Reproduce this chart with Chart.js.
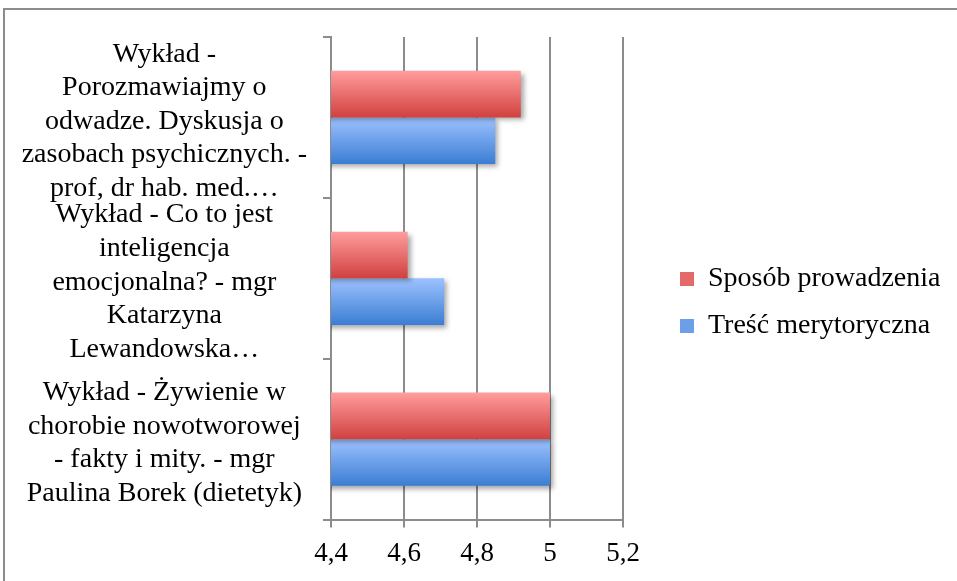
<!DOCTYPE html>
<html>
<head>
<meta charset="utf-8">
<script src="https://cdn.jsdelivr.net/npm/chart.js@4"></script>
<style>
  html, body { margin: 0; padding: 0; background: #fff; overflow: hidden; }
  #frame { position: absolute; left: 3px; top: 8px; width: 1000px; height: 1000px; border: 2px solid #8c8c8c; }
  #chart { position: absolute; left: 0; top: 0; }
</style>
</head>
<body>
<div id="frame"></div>
<canvas id="chart" width="957" height="581"></canvas>
<script>
// categories (multi-line labels as shown on the axis)
const categories = [
  ["Wykład -", "Porozmawiajmy o", "odwadze. Dyskusja o", "zasobach psychicznych. -", "prof, dr hab. med.…"],
  ["Wykład - Co to jest", "inteligencja", "emocjonalna? - mgr", "Katarzyna", "Lewandowska…"],
  ["Wykład - Żywienie w", "chorobie nowotworowej", "- fakty i mity. - mgr", "Paulina Borek (dietetyk)"]
];
const sposobProwadzenia = [4.92, 4.61, 5.0];
const trescMerytoryczna = [4.85, 4.71, 5.0];
const xMin = 4.4, xMax = 5.2, xStep = 0.2;

const serif = "'Liberation Serif', serif";
const gridGrey = "#8c8c8c";

// vertical gradient + soft shadow for the bars
const gradientStops = {
  red: ["#ff9d9d", "#d0413f"],
  blue: ["#9dc2ff", "#3b7dd3"]
};

const barStyle = {
  id: "barStyle",
  afterLayout(chart) {
    // leave a gap between the plot and the legend, as in the original
    const lg = chart.legend;
    lg.left += 38; lg.right += 38;
    lg.top -= 6; lg.bottom -= 6;
  },
  beforeDatasetDraw(chart, args) {
    const ctx = chart.ctx;
    const stops = gradientStops[chart.data.datasets[args.index].tone];
    args.meta.data.forEach((el) => {
      const top = el.y - el.height / 2;
      const g = ctx.createLinearGradient(0, top, 0, top + el.height);
      g.addColorStop(0, stops[0]);
      g.addColorStop(1, stops[1]);
      el.options = Object.assign({}, el.options, { backgroundColor: g });
    });
    ctx.save();
    ctx.shadowColor = "rgba(0,0,0,0.35)";
    ctx.shadowBlur = 5;
    ctx.shadowOffsetX = 3;
    ctx.shadowOffsetY = 3;
  },
  afterDatasetDraw(chart) {
    chart.ctx.restore();
  }
};

document.addEventListener("DOMContentLoaded", () => {
  const ctx = document.getElementById("chart").getContext("2d");

  new Chart(ctx, {
    type: "bar",
    data: {
      labels: categories,
      datasets: [
        {
          label: "Sposób prowadzenia",
          data: sposobProwadzenia,
          tone: "red",
          backgroundColor: "#e46a6a",
          borderWidth: 0,
        },
        {
          label: "Treść merytoryczna",
          data: trescMerytoryczna,
          tone: "blue",
          backgroundColor: "#6d9fe8",
          borderWidth: 0,
        },
      ],
    },
    options: {
      indexAxis: "y",
      responsive: false,
      animation: false,
      layout: { padding: { left: 0, top: 37, right: 0, bottom: 1 } },
      datasets: { bar: { categoryPercentage: 0.58, barPercentage: 1.0 } },
      scales: {
        x: {
          min: xMin,
          max: xMax,
          afterFit: (s) => { s.paddingRight = 334; },
          ticks: {
            stepSize: xStep,
            color: "#000",
            padding: 10,
            font: { family: serif, size: 27 },
            callback: (v) => String(Number(v.toFixed(1))).replace(".", ","),
          },
          grid: { color: gridGrey, lineWidth: 2, tickLength: 8 },
          border: { color: gridGrey, width: 2 },
        },
        y: {
          offset: true,
          afterFit: (s) => { s.width = 331; s.paddingTop = 0; s.paddingBottom = 0; },
          ticks: {
            color: "#000",
            padding: 16,
            autoSkip: false,
            labelOffset: 4,
            crossAlign: "center",
            font: { family: serif, size: 28, lineHeight: 1.2 },
          },
          grid: { color: gridGrey, lineWidth: 2, tickLength: 8, drawOnChartArea: false, offset: true },
          border: { color: gridGrey, width: 2 },
        },
      },
      plugins: {
        legend: {
          position: "right",
          maxWidth: 400,
          labels: {
            boxWidth: 14,
            boxHeight: 14,
            padding: 19,
            color: "#000",
            font: { family: serif, size: 28 },
          },
        },
        tooltip: { enabled: false },
      },
    },
    plugins: [barStyle],
  });
});
</script>
</body>
</html>
